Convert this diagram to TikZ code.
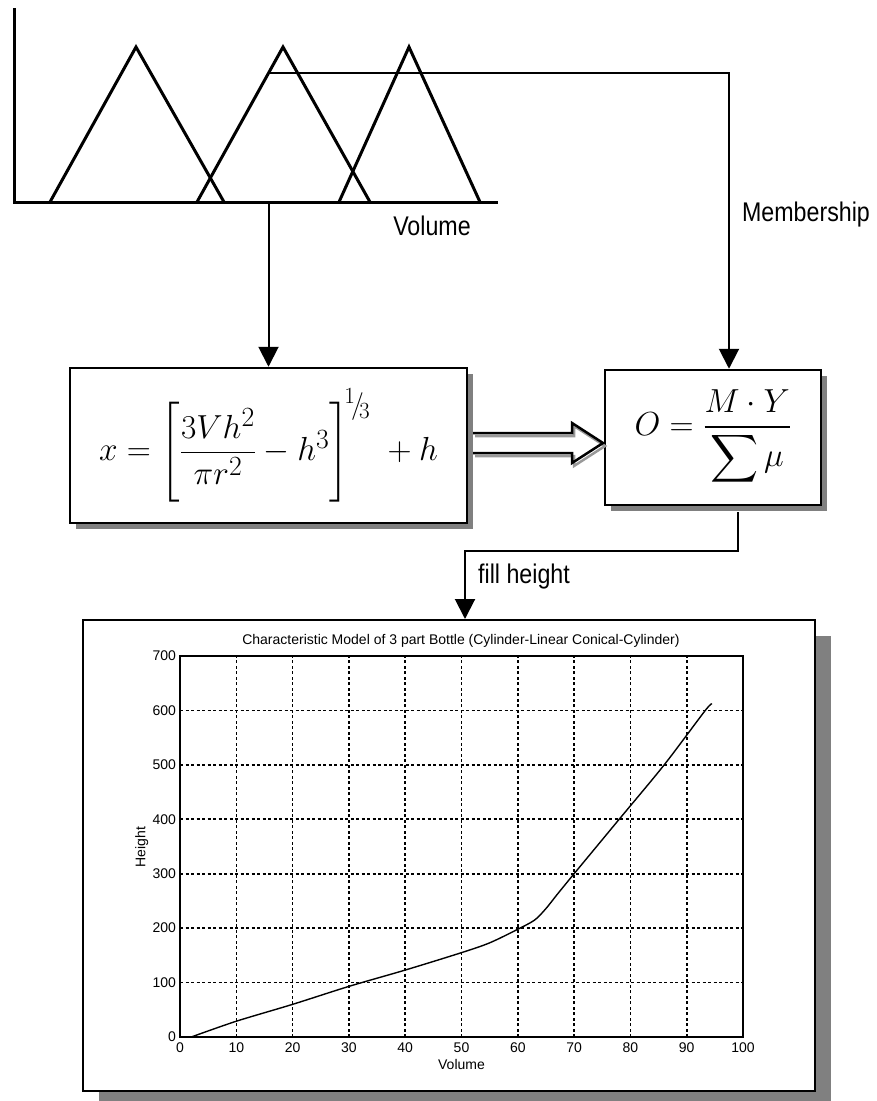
\documentclass[tikz,border=0pt]{standalone}
\usepackage{amsmath}
\usepackage{graphicx}
\usepackage{fontspec}
\setsansfont{Liberation Sans}
\newfontfamily\narrowsans[FakeStretch=0.86]{Liberation Sans}
\usetikzlibrary{arrows.meta,shadows}

\tikzset{
  mfline/.style={line width=3pt, line join=miter},
  conn/.style={line width=2pt},
  tip/.style={-{Triangle[length=20pt,width=20pt]}},
  eqbox/.style={draw, line width=2.5pt, fill=white, font=\fontsize{24.88}{30}\selectfont,
    drop shadow={shadow xshift=6pt, shadow yshift=-6pt, fill=black!50, opacity=1}},
  lbl/.style={font=\narrowsans\fontsize{27}{30}\selectfont, inner sep=0pt},
  ticklbl/.style={font=\sffamily\fontsize{14}{16}\selectfont, inner sep=0pt},
  gridline/.style={line width=1.6pt, dash pattern=on 3pt off 2.5pt},
}

\begin{document}
\begin{tikzpicture}[x=1pt,y=-1pt]
\useasboundingbox (0,0) rectangle (876,1101);

% membership functions over volume
\draw[mfline] (14,8) -- (14,202) -- (498,202);
\draw[mfline] (50,202) -- (136,47) -- (224,202);
\draw[mfline] (197,202) -- (283,47) -- (370,202);
\draw[mfline] (339,202) -- (409,47) -- (480,202);
\coordinate (mu) at (268.6,73);
\coordinate (vol) at (268.5,202);
\node[lbl] (vollbl) at (432,226) {Volume};
\node[lbl] (memblbl) at (806,215) {Membership};

% the two equations
\node[eqbox, minimum width=397pt, minimum height=155pt] (formula) at (268.5,445.5)
  {\scalebox{1.34}{$x=\left[\dfrac{3Vh^2}{\pi r^2}-h^3\right]^{\!{}^{1}\!/\!{}_{3}}\;+h$}};
\node[eqbox, minimum width=216pt, minimum height=135pt] (obox) at (713,437.5)
  {\scalebox{1.34}{$O=\dfrac{M\cdot Y}{\displaystyle\sum\mu}$}};

\draw[conn,tip] (vol) -- (formula.north);
\draw[conn,tip] (mu) -| ([xshift=16pt]obox.north);

% hollow arrow between the boxes
\coordinate (hs) at (473,443);
\coordinate (ht) at (603,443);
\draw[line width=2.5pt, black!40, line join=miter] (hs) ++(2,-7) -- ++(99,0) -- ++(0,-10) -- ([shift={(2,3)}]ht) -- ++(-31,20) -- ++(0,-10) -- ++(-99,0);
\draw[line width=2.5pt, line join=miter] (hs) ++(0,-10) -- ++(99,0) -- ++(0,-10) -- (ht) -- ++(-31,20) -- ++(0,-10) -- ++(-99,0);

% result chart
\node[draw, line width=2pt, fill=white, minimum width=732pt, minimum height=471pt,
  drop shadow={shadow xshift=16pt, shadow yshift=-16pt, fill=black!50, opacity=1}] (chart) at (449,855.5) {};
\coordinate (bend) at (465,551);
\draw[conn,tip] ([xshift=25pt]obox.south) ++(0,6) |- (bend) -- (bend |- chart.north);
\node[lbl, anchor=west] (fillh) at (478,577) {fill height};

\begin{scope}[shift={(180,1037)}, x=5.63pt, y=0.5443pt]
  \foreach \i in {10,20,...,90} \draw[gridline] (\i,0) -- (\i,700);
  \foreach \j in {100,200,...,600} \draw[gridline] (0,\j) -- (100,\j);
  \draw[line width=1.6pt] (0,0) rectangle (100,700);
  \foreach \i in {0,10,...,100} \node[ticklbl, anchor=north] at (\i,-10) {\i};
  \foreach \j in {0,100,...,700} \node[ticklbl, anchor=east] at (-0.7,\j) {\j};
  \node[ticklbl] (xlab) at (50,-51) {Volume};
  \node[ticklbl, rotate=90] (ylab) at (-6.8,349) {Height};
  \node[ticklbl] (title) at (49.9,727) {Characteristic Model of 3 part Bottle (Cylinder-Linear Conical-Cylinder)};
  \draw[line width=1.4pt] plot[smooth] coordinates {(2,0) (10,29) (20,60) (30,93) (40,123) (50,155) (55,173) (60,198) (63,215) (65,236) (67,262) (70,300) (74,350) (78,400) (86,500) (93.3,600) (94.5,612)};
\end{scope}
\end{tikzpicture}
\end{document}
